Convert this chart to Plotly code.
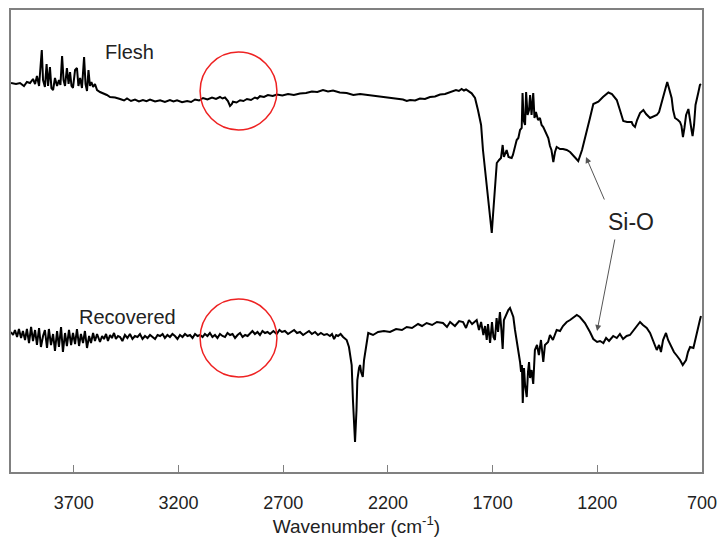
import plotly.graph_objects as go

# ---- data (wavenumber cm-1, arbitrary intensity) ----
flesh_wn = [4000, 3976, 3957, 3938, 3924, 3909, 3895, 3885, 3876, 3866, 3853, 3847, 3838, 3830, 3823, 3814,
            3807, 3799, 3790, 3780, 3771, 3764, 3756, 3749, 3742, 3733, 3725, 3718, 3711, 3704, 3694, 3685,
            3678, 3670, 3661, 3651, 3644, 3637, 3630, 3623, 3616, 3608, 3599, 3589, 3575, 3561, 3542, 3527,
            3503,
            3479, 3460, 3446, 3427, 3408, 3389, 3370, 3353, 3336, 3312, 3288, 3265, 3241, 3224, 3207, 3183,
            3159, 3140, 3121, 3102, 3083, 3062, 3040, 3021, 3002, 2990, 2978, 2964, 2954, 2945, 2940, 2923,
            2906, 2890, 2873, 2854, 2835, 2823, 2811, 2792, 2773, 2750, 2730, 2704, 2677, 2649, 2620, 2591,
            2563, 2537, 2510, 2486, 2462, 2430, 2397, 2365, 2333, 2280, 2223, 2175, 2128, 2110, 2094, 2070,
            2047, 2023, 1999, 1975, 1951, 1927, 1903, 1889, 1875, 1861, 1848, 1837, 1827,
            1800, 1784, 1770, 1755, 1746, 1734,
            1722, 1712, 1704, 1698, 1693, 1686, 1680, 1669, 1660, 1652, 1646, 1633, 1624, 1609, 1603, 1585,
            1577, 1569, 1561, 1557, 1552, 1545, 1540, 1533, 1526, 1521, 1514, 1506, 1500, 1493, 1483, 1474,
            1466, 1458, 1450, 1434, 1426, 1419, 1410, 1402, 1394, 1378, 1364, 1346, 1330, 1311, 1291, 1273,
            1251, 1235, 1219, 1195, 1173, 1147, 1130, 1107, 1092, 1076, 1058, 1036, 1030, 1020, 1010, 996,
            980, 967, 948, 934, 916, 905, 892, 881, 866, 858, 845, 838, 829, 815, 805, 798,
            791, 784, 776, 765, 757, 750, 745, 738, 731, 725, 717, 710, 705]
flesh_y = [389, 388, 389, 386, 390, 389, 393, 388, 396, 386, 422, 392, 385, 408, 386, 405,
           384, 382, 394, 386, 392, 387, 416, 392, 386, 404, 388, 400, 386, 384, 402, 404,
           386, 394, 384, 415, 388, 381, 402, 386, 390, 385, 388, 382, 380, 379, 377, 375,
           374.5,
           373, 371.5, 373.5, 371, 372.5, 370.5, 372, 370.8, 372.5, 370.5, 371.8, 370, 372, 370.5, 371.8, 369.8,
           371, 370, 372.5, 371.5, 374, 372.5, 374.5, 373, 375, 373.5, 374.5, 371, 366, 368, 370.3, 369.5,
           371.8, 371, 373, 372, 374.5, 373.5, 375.8, 375, 377, 376, 377.5, 376.5, 378, 377, 378.5, 379,
           380.5, 380, 382, 380.5, 381.5, 379.5, 379, 377, 378, 376.5, 375.5, 374, 372.5, 371, 372, 371.5,
           373.5, 373, 375, 375.5, 377.5, 378, 380, 380.5, 382, 381, 383, 381.5, 382.5,
           378.7, 374, 362, 347, 322, 297,
           272, 252, 239, 257, 272, 294, 309, 312, 314, 327, 315, 322, 315, 314, 317, 332,
           334, 342, 344, 379, 352, 347, 380, 357, 362, 377, 357, 379, 354, 360, 352, 354,
           347, 345, 341, 334, 326, 322, 310, 320, 325, 323, 323, 322, 320, 316, 311, 322,
           339, 354, 368, 370.3, 375, 379.5, 378, 372, 362, 351, 350, 350, 347, 345, 352, 359,
           362, 358, 354, 355, 357, 360, 370, 380, 390, 384, 374, 362, 354, 352, 350, 346,
           335, 344, 357, 363, 354, 342, 336, 347, 367, 374, 380, 387, 388]

recovered_wn = [4000, 3990, 3981, 3971, 3962, 3952, 3943, 3933, 3924, 3914, 3904, 3895, 3885, 3876, 3866, 3857,
                3847, 3838, 3828, 3819, 3809, 3799, 3790, 3780, 3771, 3761, 3752, 3742, 3733, 3723, 3713, 3704,
                3694, 3685, 3675, 3666, 3656, 3647, 3637, 3627, 3618, 3608, 3599, 3589,
                3575, 3565, 3556, 3546, 3537, 3527, 3518, 3508, 3499, 3489, 3479, 3468, 3456, 3444, 3432, 3420,
                3408, 3396, 3384, 3372, 3360, 3348, 3336, 3324, 3312, 3300, 3288, 3276, 3265, 3253, 3241, 3229,
                3217, 3205, 3193, 3181, 3169, 3157, 3145, 3133, 3121, 3109, 3097, 3085, 3074, 3062, 3050, 3038,
                3026, 3014, 3002, 2990, 2978, 2966, 2954, 2942, 2930, 2918, 2906, 2894, 2882, 2870, 2859, 2847,
                2835, 2823, 2811, 2799, 2787, 2775, 2763, 2747, 2731, 2718, 2706, 2692, 2677, 2662, 2648, 2634,
                2620, 2605, 2591, 2577, 2563, 2548, 2534, 2520, 2505, 2491, 2477, 2467, 2457, 2447, 2438, 2426,
                2414, 2397,
                2386, 2373, 2367, 2357, 2350, 2346, 2338, 2333, 2328, 2320, 2314, 2309, 2302, 2294, 2271, 2247,
                2219, 2190, 2161, 2133, 2110, 2085, 2056, 2037, 2015, 1989, 1966, 1937, 1918, 1903, 1880, 1860,
                1841, 1827, 1813, 1798, 1776, 1765, 1755, 1744, 1736, 1728, 1722, 1712, 1703, 1696, 1689, 1681,
                1674, 1665, 1658, 1652, 1646, 1636, 1625, 1617, 1609, 1601, 1593, 1585, 1577, 1569, 1564, 1560,
                1556, 1550, 1545, 1537, 1531, 1526, 1521, 1514, 1506, 1501, 1498, 1488, 1479, 1469, 1458, 1450,
                1435, 1426, 1412, 1394, 1378, 1364, 1346, 1330, 1316, 1298, 1283, 1259, 1235, 1219, 1201, 1187,
                1171, 1158, 1144, 1124, 1107, 1092, 1077, 1060, 1044, 1020, 996, 982, 964, 948, 933, 916,
                905, 896, 886, 872, 862, 845, 834, 819, 805, 792, 776, 767, 757, 741, 733, 725,
                718, 710, 705]
recovered_y = [140, 137, 142, 135, 143, 134, 141, 132, 143, 129, 145, 131, 142, 127, 144, 125,
               136, 142, 124, 143, 127, 138, 121, 141, 125, 145, 120, 139, 126, 142, 127, 139,
               128, 143, 126, 138, 129, 141, 124, 136, 129, 139, 131, 138,
               130, 136, 133, 138, 131, 137, 134, 139, 133, 136, 135, 131, 137, 134, 138, 133,
               136, 135, 138, 133, 136, 134, 137, 135, 133, 137, 136, 138, 134, 137, 135, 138,
               136, 133, 137, 135, 138, 136, 137, 134, 138, 136, 137, 135, 138, 136, 139, 135,
               137, 134, 138, 136, 135, 139, 137, 138, 134, 137, 139, 135, 137, 136, 138, 141,
               138, 140, 137, 141, 139, 140, 138, 141, 138, 142, 140, 141, 138, 140, 142, 139,
               140, 137, 139, 141, 138, 140, 137, 139, 137, 138, 136, 138, 133, 137, 136, 138,
               135, 132,
               125, 107, 72, 30, 62, 92, 104, 107, 100, 95, 112, 119, 127, 139, 137, 140,
               141, 140, 143, 142, 145, 144, 148, 146, 149, 147, 150, 149, 145, 150, 146, 151,
               150, 144, 152, 148, 152, 142, 150, 137, 146, 132, 148, 129, 150, 135, 132, 154,
               140, 160, 142, 123, 152, 157, 162, 164, 160, 155, 142, 132, 122, 110, 100, 107,
               69, 104, 87, 75, 100, 110, 94, 102, 88, 117, 122, 127, 117, 132, 110, 127,
               130, 137, 132, 142, 141, 146, 150, 152, 154, 157, 155, 149, 140, 133, 130, 131,
               129, 134, 131, 136, 134, 138, 133, 136, 137, 144, 150, 147, 144, 139, 131, 122,
               127, 120, 132, 139, 132, 124, 120, 116, 112, 107, 112, 120, 125, 124, 132, 139,
               144, 152, 156]

assert len(flesh_wn) == len(flesh_y)
assert len(recovered_wn) == len(recovered_y)

x_ticks = [3700, 3200, 2700, 2200, 1700, 1200, 700]
x_range = [4000, 700]
y_range = [0, 462]

FONT = "Liberation Sans, Arial, sans-serif"
GRAY = "#808080"

fig = go.Figure()
fig.add_trace(go.Scatter(x=flesh_wn, y=flesh_y, mode="lines", name="Flesh",
                         line=dict(color="black", width=2)))
fig.add_trace(go.Scatter(x=recovered_wn, y=recovered_y, mode="lines", name="Recovered",
                         line=dict(color="black", width=2)))

# red circles
for (y0, y1) in [(342, 420), (95, 173)]:
    fig.add_shape(type="circle", xref="x", yref="y", x0=3097, x1=2730, y0=y0, y1=y1,
                  line=dict(color="#ee2222", width=1.5))

# labels
fig.add_annotation(x=3432, y=420, text="Flesh", showarrow=False,
                   font=dict(family=FONT, size=20, color="#222222"))
fig.add_annotation(x=3446, y=155, text="Recovered", showarrow=False,
                   font=dict(family=FONT, size=20, color="#222222"))
fig.add_annotation(x=1037, y=250, text="Si-O", showarrow=False,
                   font=dict(family=FONT, size=23, color="#222222"))

# arrows
fig.add_annotation(x=1254, y=315, ax=19, ay=44, text="", showarrow=True,
                   arrowhead=2, arrowsize=1.2, arrowwidth=1, arrowcolor="#555555")
fig.add_annotation(x=1201, y=141, ax=18, ay=-93, text="", showarrow=True,
                   arrowhead=2, arrowsize=1.2, arrowwidth=1, arrowcolor="#555555")

fig.update_layout(
    width=720, height=542, autosize=False,
    margin=dict(l=11, r=18, t=10, b=70, autoexpand=False),
    paper_bgcolor="white", plot_bgcolor="white",
    showlegend=False,
    font=dict(family=FONT, color="#222222"),
    xaxis=dict(range=x_range, tickvals=x_ticks, ticktext=[str(v) for v in x_ticks],
               ticks="inside", ticklen=7, tickwidth=1, tickcolor=GRAY,
               showline=True, linecolor=GRAY, linewidth=2, mirror=True,
               showgrid=False, zeroline=False, automargin=False,
               ticklabeloverflow="allow",
               tickfont=dict(family=FONT, size=18, color="#222222"),
               ticklabelstandoff=13,
               title=dict(text="Wavenumber (cm<sup>-1</sup>)", standoff=1,
                          font=dict(family=FONT, size=19, color="#222222"))),
    yaxis=dict(range=y_range, showticklabels=False, ticks="",
               showline=True, linecolor=GRAY, linewidth=2, mirror=True,
               showgrid=False, zeroline=False, automargin=False),
)

fig.write_html("out.html")
